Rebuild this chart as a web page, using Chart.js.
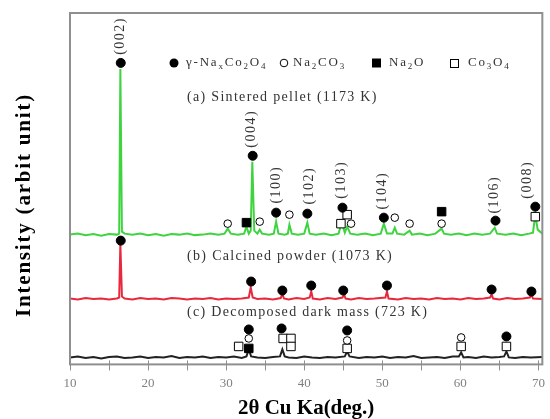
<!DOCTYPE html>
<html>
<head>
<meta charset="utf-8">
<script src="https://cdn.jsdelivr.net/npm/chart.js@4.4.0/dist/chart.umd.min.js"></script>
<style>
  html, body { margin: 0; padding: 0; background: #fff; }
  #wrap { width: 550px; height: 419px; }
</style>
</head>
<body>
<div id="wrap"><canvas id="xrd"></canvas></div>
<script>
// (a) sintered pellet 1173 K  -- 2theta / intensity (arb.)
const thetaA = [10, 11, 12, 13, 14, 15, 16, 16.3, 16.45, 16.65, 17, 18, 19, 20, 21, 22, 23, 24, 25, 26, 27, 28, 29,
  29.8, 30.2, 30.6, 31.5, 32.3, 32.6, 32.9, 33.15, 33.35, 33.6, 34.0, 34.3, 34.6, 35.5, 36.1, 36.4, 36.7,
  37.5, 37.9, 38.1, 38.4, 39.2, 40, 40.4, 40.7, 41.5, 42.5, 43.5, 44.4, 44.8, 45.2, 45.5, 45.9,
  46.8, 47.8, 48.8, 49.8, 50.2, 50.6, 51.3, 51.6, 51.9, 52.8, 53.5, 53.8, 54.8, 55.8, 56.8, 57.6, 57.9,
  58.8, 59.8, 60.8, 61.8, 62.8, 63.8, 64.4, 64.7, 65.8, 66.8, 67.8, 68.8, 69.3, 69.6, 69.9, 70.5];
const intA = [130, 131, 129.5, 130.5, 129, 130.5, 130, 131, 296, 133, 131, 130, 131, 129.5, 130.5, 129, 130.5, 130, 131, 129.5, 130, 131, 130,
  131, 136, 131, 130, 131, 138, 131, 134, 203, 134, 131, 135, 131, 130, 131, 143, 131,
  130, 131, 140, 131, 130, 131, 142, 131, 130, 131, 129.5, 131, 142, 132, 138, 131,
  130, 131, 129.5, 131, 141, 131, 131, 137, 131, 130, 134, 130, 131, 129.5, 131, 136, 131,
  130, 131, 129.5, 131, 130, 131, 137, 131, 130, 131, 129.5, 131, 132, 150, 135, 131];

// (b) calcined powder 1073 K
const thetaB = [10, 11, 12, 13, 14, 15, 16, 16.3, 16.45, 16.65, 17, 18, 19, 20, 21, 22, 23, 24, 25, 26, 27, 28, 29, 30, 31, 32,
  32.9, 33.15, 33.4, 34, 35, 36, 37.0, 37.2, 37.4, 38, 39, 40, 40.7, 40.9, 41.1, 42, 43, 44, 44.9, 45.1, 45.3,
  46, 47, 48, 49, 50.4, 50.6, 50.8, 52, 53, 54, 55, 56, 57, 58, 59, 60, 61, 62, 63, 63.8, 64.0, 64.2,
  65, 66, 67, 68, 68.9, 69.1, 69.3, 70.5];
const intB = [66, 65, 66.5, 65.5, 66, 65, 66, 67, 121, 68, 66, 65, 66.5, 65.5, 66, 65, 66.5, 66, 65, 66, 65.5, 66.5, 65, 66, 65.5, 66,
  67, 77, 67, 65.5, 66, 65, 66.5, 71, 66, 65, 66.5, 65.5, 67, 73, 66, 65, 66.5, 65.5, 67, 70, 66,
  65, 66.5, 65.5, 66, 67, 73, 66, 65, 66.5, 65.5, 66, 65, 66.5, 65.5, 66, 65, 66.5, 65.5, 66, 67, 70, 66,
  65, 66.5, 65.5, 66, 67, 70, 66, 65.5];

// (c) decomposed dark mass 723 K
const thetaC = [10, 11, 12, 13, 14, 15, 16, 17, 18, 19, 20, 21, 22, 23, 24, 25, 26, 27, 28, 29, 30, 31, 32,
  32.6, 32.9, 33.2, 34, 35, 36, 36.9, 37.2, 37.5, 38, 39, 40, 41, 42, 43, 44, 45.2, 45.5, 45.8,
  47, 48, 49, 50, 51, 52, 53, 54, 55, 56, 57, 58, 59, 59.8, 60.1, 60.4, 61, 62, 63, 64, 65,
  65.6, 65.9, 66.2, 67, 68, 69, 70.5];
const intC = [7, 8, 6.5, 7.5, 6, 7.5, 8, 6.5, 7, 8, 6.5, 7.5, 7, 8.5, 6.5, 7.5, 7, 8, 6.5, 7.5, 7, 8, 6.5,
  8, 15, 8, 7, 6.5, 7.5, 8, 15, 8, 7, 6.5, 8, 7, 6.5, 7.5, 7, 8, 13, 8,
  6.5, 7.5, 7, 8, 6.5, 7.5, 7, 8.5, 6.5, 7, 7.5, 6.5, 8, 8, 12, 7, 7.5, 6.5, 8, 7, 7.5,
  8, 13, 7, 6.5, 7.5, 7, 7.5];

// phase markers (2theta, height)
const gammaX = [16.5, 33.4, 36.4, 40.4, 44.9, 50.2, 64.5, 69.6, 16.5, 33.2, 37.2, 40.9, 45.0, 50.6, 64.0, 69.1, 32.9, 37.1, 45.5, 65.9];
const gammaY = [302, 209, 152, 151, 157, 147, 144, 158, 124, 83, 74, 79, 74, 79, 75, 73, 35, 36, 34, 28];
const carbX = [30.2, 34.3, 38.1, 46.0, 51.6, 53.5, 57.6, 32.9, 45.5, 60.1];
const carbY = [141, 143, 150, 141, 147, 141, 141, 26, 24, 27];
const na2oX = [32.6, 57.6, 32.9];
const na2oY = [142, 153, 16];
const co3o4X = [45.5, 44.7, 69.6, 31.6, 37.3, 38.3, 38.3, 45.5, 60.1, 65.9];
const co3o4Y = [150, 141, 148, 18, 26, 26, 18, 16, 18, 18];

// hkl labels
const millerText = ['(002)', '(004)', '(100)', '(102)', '(103)', '(104)', '(106)', '(008)'];
const millerX = [16.5, 33.2, 36.4, 40.6, 44.7, 50.0, 64.3, 68.6];
const millerY = [329, 236, 180, 179, 185, 174, 170, 185];

const sampleText = ['(a) Sintered pellet (1173 K)', '(b) Calcined powder (1073 K)', '(c) Decomposed dark mass (723 K)'];
const sampleX = [25.0, 25.0, 25.0];
const sampleY = [268, 108, 52];

const xTicks = [10, 20, 30, 40, 50, 60, 70];
const xMinor = [15, 25, 35, 45, 55, 65];

function pts(xs, ys) {
  return xs.map((x, i) => ({ x: x, y: ys[i] }));
}

function markerSet(xs, ys, style, fill, r) {
  return {
    type: 'scatter', data: pts(xs, ys), order: 0, showLine: false,
    pointStyle: style, pointRadius: r, backgroundColor: fill, borderColor: '#000', borderWidth: 1
  };
}

function lineSet(xs, ys, col) {
  return {
    type: 'line', data: pts(xs, ys), order: 1, borderColor: col, borderWidth: 2,
    pointRadius: 0, tension: 0, fill: false
  };
}

// draw text with subscripts
function subText(ctx, x, y, parts) {
  parts.forEach(p => {
    ctx.font = p[1] ? '9px "Liberation Serif"' : '13px "Liberation Serif"';
    ctx.fillText(p[0], x, p[1] ? y + 4 : y);
    x += ctx.measureText(p[0]).width;
  });
  return x;
}

const decor = {
  id: 'decor',
  afterDraw(chart) {
    let ctx = chart.ctx;
    let a = chart.chartArea;
    let xs = chart.scales.x, ys = chart.scales.y;
    ctx.save();

    // frame
    ctx.strokeStyle = '#8f8f8f';
    ctx.lineWidth = 2;
    ctx.strokeRect(a.left, a.top, a.right - a.left, a.bottom - a.top);

    // inner ticks on bottom axis
    ctx.lineWidth = 1;
    xs.ticks.forEach(t => {
      let px = Math.round(xs.getPixelForValue(t.value)) + 0.5;
      ctx.beginPath();
      ctx.moveTo(px, a.bottom);
      ctx.lineTo(px, a.bottom - 4);
      ctx.stroke();
    });

    // hkl labels
    ctx.fillStyle = '#333';
    ctx.font = '14px "Liberation Serif"';
    ctx.letterSpacing = '1.5px';
    ctx.textAlign = 'center';
    ctx.textBaseline = 'middle';
    millerText.forEach((s, i) => {
      ctx.save();
      ctx.translate(xs.getPixelForValue(millerX[i]), ys.getPixelForValue(millerY[i]));
      ctx.rotate(-Math.PI / 2);
      ctx.fillText(s, 0, 0);
      ctx.restore();
    });

    // sample labels
    ctx.textAlign = 'left';
    ctx.font = '14px "Liberation Serif"';
    ctx.letterSpacing = '1.3px';
    sampleText.forEach((s, i) => {
      ctx.fillText(s, xs.getPixelForValue(sampleX[i]), ys.getPixelForValue(sampleY[i]));
    });

    // legend row
    let ly = 63;
    ctx.letterSpacing = '1.8px';
    ctx.textBaseline = 'middle';
    ctx.fillStyle = '#000';
    ctx.beginPath(); ctx.arc(174, ly, 4.5, 0, Math.PI * 2); ctx.fill();
    ctx.fillStyle = '#333';
    subText(ctx, 186, ly, [['γ-Na', 0], ['x', 1], ['Co', 0], ['2', 1], ['O', 0], ['4', 1]]);
    ctx.strokeStyle = '#000'; ctx.lineWidth = 1;
    ctx.beginPath(); ctx.arc(284, ly, 3.8, 0, Math.PI * 2); ctx.stroke();
    subText(ctx, 293, ly, [['Na', 0], ['2', 1], ['CO', 0], ['3', 1]]);
    ctx.fillStyle = '#000';
    ctx.fillRect(372, ly - 4.5, 9, 9);
    ctx.fillStyle = '#333';
    subText(ctx, 389, ly, [['Na', 0], ['2', 1], ['O', 0]]);
    ctx.strokeRect(450.5, ly - 3.5, 8, 8);
    subText(ctx, 468, ly, [['Co', 0], ['3', 1], ['O', 0], ['4', 1]]);

    // y title
    ctx.save();
    ctx.translate(25, 205);
    ctx.rotate(-Math.PI / 2);
    ctx.textAlign = 'center';
    ctx.fillStyle = '#000';
    ctx.letterSpacing = '1.8px';
    ctx.font = 'bold 21px "Liberation Serif"';
    ctx.fillText('Intensity (arbit unit)', 0, 0);
    ctx.restore();

    ctx.restore();
  }
};

window.addEventListener('load', function () {
  let canvas = document.getElementById('xrd');
  new Chart(canvas, {
    data: {
      datasets: [
        markerSet(gammaX, gammaY, 'circle', '#000', 4.5),
        markerSet(carbX, carbY, 'circle', '#fff', 3.8),
        markerSet(na2oX, na2oY, 'rect', '#000', 6),
        markerSet(co3o4X, co3o4Y, 'rect', '#fff', 6),
        lineSet(thetaA, intA, '#3fd43f'),
        lineSet(thetaB, intB, '#e8283c'),
        lineSet(thetaC, intC, '#222')
      ]
    },
    options: {
      responsive: true,
      maintainAspectRatio: false,
      animation: false,
      layout: { padding: { left: 70, right: 6, top: 13, bottom: 0 } },
      plugins: { legend: { display: false }, tooltip: { enabled: false } },
      scales: {
        x: {
          type: 'linear', min: 10, max: 70.5,
          border: { display: false },
          afterBuildTicks: s => {
            s.ticks = xTicks.concat(xMinor).sort((p, q) => p - q).map(v => ({ value: v }));
          },
          grid: { drawOnChartArea: false, tickLength: 6, tickColor: '#8f8f8f' },
          ticks: {
            autoSkip: false, maxRotation: 0, padding: 5,
            color: '#808080', font: { family: 'Liberation Serif', size: 13 },
            callback: v => xTicks.includes(v) ? String(v) : ''
          },
          title: {
            display: true, text: '2θ Cu Ka(deg.)', color: '#000',
            font: { family: 'Liberation Serif', size: 21, weight: 'bold', lineHeight: 1 },
            padding: { top: 2, bottom: 0 }
          }
        },
        y: { display: false, min: 0, max: 352 }
      }
    },
    plugins: [decor]
  });
});
</script>
</body>
</html>
